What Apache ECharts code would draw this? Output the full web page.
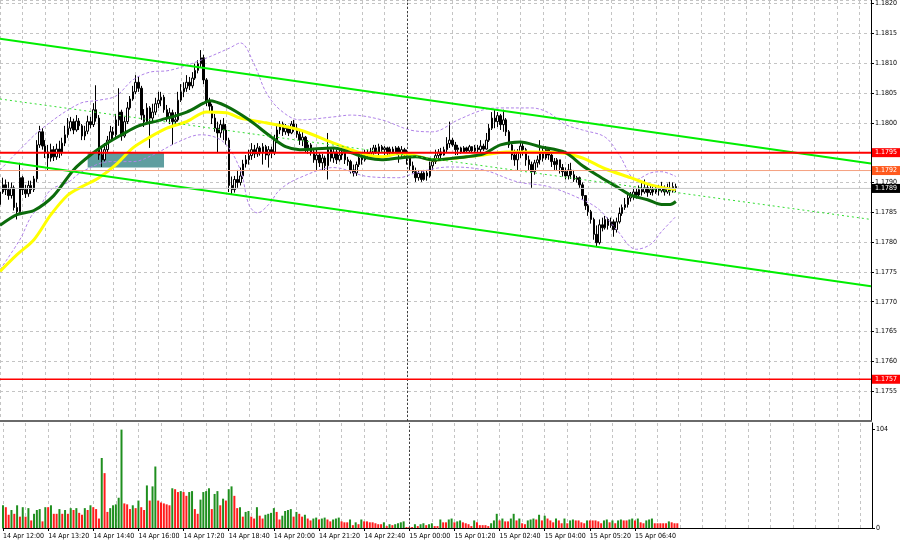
<!DOCTYPE html>
<html><head><meta charset="utf-8">
<script src="https://cdn.jsdelivr.net/npm/echarts@6/dist/echarts.min.js"></script>
<style>html,body{margin:0;padding:0;background:#fff}#c{width:900px;height:545px}</style>
</head><body><div id="c"></div>
<script>
// ---- data ----
const timeLabels = ['14 Apr 12:00','14 Apr 13:20','14 Apr 14:40','14 Apr 16:00','14 Apr 17:20','14 Apr 18:40','14 Apr 20:00','14 Apr 21:20','14 Apr 22:40','15 Apr 00:00','15 Apr 01:20','15 Apr 02:40','15 Apr 04:00','15 Apr 05:20','15 Apr 06:40'];
const opens = [
1.17863,1.17884,1.17896,1.17888,1.17878,1.17891,1.17858,1.17851,1.17908,1.17888,
1.17881,1.17895,1.17888,1.17906,1.17963,1.17985,1.17961,1.17951,1.17941,1.17955,
1.17943,1.17956,1.17950,1.17966,1.17980,1.17991,1.18002,1.17988,1.18003,1.17995,
1.17978,1.17986,1.18002,1.17997,1.18022,1.18008,1.17946,1.17938,1.17955,1.17971,
1.17985,1.17980,1.18005,1.18018,1.17978,1.18002,1.18025,1.18040,1.18052,1.18068,
1.18058,1.18013,1.18002,1.18025,1.18008,1.18018,1.18032,1.18038,1.18043,1.18022,
1.18008,1.18017,1.18002,1.18005,1.18038,1.18052,1.18058,1.18068,1.18062,1.18075,
1.18088,1.18099,1.18109,1.18072,1.18035,1.18028,1.18008,1.17991,1.17983,1.17997,
1.17988,1.17971,1.17895,1.17888,1.17905,1.17900,1.17911,1.17931,1.17938,1.17945,
1.17955,1.17948,1.17958,1.17951,1.17960,1.17946,1.17955,1.17951,1.17971,1.17988,
1.17998,1.17985,1.17991,1.17983,1.17998,1.17991,1.17981,1.17971,1.17976,1.17958,
1.17963,1.17951,1.17938,1.17946,1.17933,1.17941,1.17928,1.17955,1.17941,1.17951,
1.17938,1.17946,1.17951,1.17938,1.17935,1.17921,1.17916,1.17930,1.17941,1.17938,
1.17950,1.17945,1.17951,1.17958,1.17951,1.17960,1.17955,1.17958,1.17950,1.17956,
1.17951,1.17958,1.17948,1.17955,1.17946,1.17941,1.17928,1.17918,1.17908,1.17915,
1.17905,1.17916,1.17911,1.17928,1.17935,1.17945,1.17951,1.17946,1.17955,1.17965,
1.17971,1.17963,1.17955,1.17958,1.17951,1.17958,1.17953,1.17960,1.17953,1.17958,
1.17955,1.17961,1.17956,1.17971,1.17991,1.18008,1.18002,1.18012,1.17997,1.18005,
1.17985,1.17963,1.17946,1.17938,1.17951,1.17961,1.17955,1.17938,1.17930,1.17918,
1.17933,1.17938,1.17951,1.17941,1.17955,1.17946,1.17935,1.17930,1.17938,1.17925,
1.17918,1.17911,1.17921,1.17913,1.17905,1.17908,1.17896,1.17878,1.17861,1.17851,
1.17838,1.17813,1.17799,1.17829,1.17824,1.17838,1.17828,1.17834,1.17821,1.17834,
1.17848,1.17858,1.17863,1.17874,1.17878,1.17884,1.17879,1.17888,1.17884,1.17891,
1.17883,1.17888,1.17884,1.17890,1.17886,1.17891,1.17884,1.17890,1.17886,1.17893];
const closes = [
1.17884,1.17896,1.17888,1.17878,1.17891,1.17858,1.17851,1.17908,1.17888,1.17881,
1.17895,1.17888,1.17906,1.17963,1.17985,1.17961,1.17951,1.17941,1.17955,1.17943,
1.17956,1.17950,1.17966,1.17980,1.17991,1.18002,1.17988,1.18003,1.17995,1.17978,
1.17986,1.18002,1.17997,1.18022,1.18008,1.17946,1.17938,1.17955,1.17971,1.17985,
1.17980,1.18005,1.18018,1.17978,1.18002,1.18025,1.18040,1.18052,1.18068,1.18058,
1.18013,1.18002,1.18025,1.18008,1.18018,1.18032,1.18038,1.18043,1.18022,1.18008,
1.18017,1.18002,1.18005,1.18038,1.18052,1.18058,1.18068,1.18062,1.18075,1.18088,
1.18099,1.18109,1.18072,1.18035,1.18028,1.18008,1.17991,1.17983,1.17997,1.17988,
1.17971,1.17895,1.17888,1.17905,1.17900,1.17911,1.17931,1.17938,1.17945,1.17955,
1.17948,1.17958,1.17951,1.17960,1.17946,1.17955,1.17951,1.17971,1.17988,1.17998,
1.17985,1.17991,1.17983,1.17998,1.17991,1.17981,1.17971,1.17976,1.17958,1.17963,
1.17951,1.17938,1.17946,1.17933,1.17941,1.17928,1.17955,1.17941,1.17951,1.17938,
1.17946,1.17951,1.17938,1.17935,1.17921,1.17916,1.17930,1.17941,1.17938,1.17950,
1.17945,1.17951,1.17958,1.17951,1.17960,1.17955,1.17958,1.17950,1.17956,1.17951,
1.17958,1.17948,1.17955,1.17946,1.17941,1.17928,1.17918,1.17908,1.17915,1.17905,
1.17916,1.17911,1.17928,1.17935,1.17945,1.17951,1.17946,1.17955,1.17965,1.17971,
1.17963,1.17955,1.17958,1.17951,1.17958,1.17953,1.17960,1.17953,1.17958,1.17955,
1.17961,1.17956,1.17971,1.17991,1.18008,1.18002,1.18012,1.17997,1.18005,1.17985,
1.17963,1.17946,1.17938,1.17951,1.17961,1.17955,1.17938,1.17930,1.17918,1.17933,
1.17938,1.17951,1.17941,1.17955,1.17946,1.17935,1.17930,1.17938,1.17925,1.17918,
1.17911,1.17921,1.17913,1.17905,1.17908,1.17896,1.17878,1.17861,1.17851,1.17838,
1.17813,1.17799,1.17829,1.17824,1.17838,1.17828,1.17834,1.17821,1.17834,1.17848,
1.17858,1.17863,1.17874,1.17878,1.17884,1.17879,1.17888,1.17884,1.17891,1.17883,
1.17888,1.17884,1.17890,1.17886,1.17891,1.17884,1.17890,1.17886,1.17893,1.17891];
const highs = [
1.17893,1.17908,1.17905,1.17901,1.17900,1.17895,1.17866,1.17933,1.17911,1.17896,
1.17903,1.17903,1.17911,1.17971,1.17995,1.17991,1.17971,1.17963,1.17965,1.17961,
1.17965,1.17970,1.17975,1.17995,1.18008,1.18010,1.18007,1.18013,1.18008,1.17998,
1.17995,1.18012,1.18010,1.18033,1.18063,1.18013,1.17961,1.17966,1.17978,1.17995,
1.17993,1.18015,1.18058,1.18022,1.18010,1.18035,1.18045,1.18062,1.18080,1.18077,
1.18062,1.18023,1.18033,1.18028,1.18032,1.18042,1.18052,1.18052,1.18047,1.18030,
1.18025,1.18022,1.18018,1.18052,1.18065,1.18068,1.18080,1.18077,1.18085,1.18099,
1.18105,1.18122,1.18114,1.18075,1.18042,1.18032,1.18015,1.18002,1.18005,1.18008,
1.17998,1.17975,1.17910,1.17911,1.17921,1.17925,1.17938,1.17946,1.17955,1.17966,
1.17963,1.17966,1.17961,1.17966,1.17963,1.17961,1.17960,1.17980,1.17995,1.18003,
1.18002,1.17998,1.17995,1.18003,1.18005,1.17998,1.17988,1.17985,1.17978,1.17971,
1.17966,1.17958,1.17955,1.17951,1.17948,1.17945,1.17983,1.17958,1.17958,1.17955,
1.17955,1.17958,1.17955,1.17943,1.17938,1.17930,1.17935,1.17951,1.17950,1.17955,
1.17955,1.17958,1.17963,1.17963,1.17965,1.17963,1.17961,1.17960,1.17960,1.17960,
1.17961,1.17961,1.17961,1.17958,1.17955,1.17941,1.17935,1.17925,1.17921,1.17920,
1.17921,1.17921,1.17935,1.17938,1.17955,1.17956,1.17958,1.17960,1.17976,1.18002,
1.17975,1.17968,1.17963,1.17960,1.17961,1.17960,1.17963,1.17961,1.17963,1.17963,
1.17971,1.17965,1.17983,1.17998,1.18018,1.18022,1.18018,1.18015,1.18022,1.18008,
1.17988,1.17966,1.17955,1.17956,1.17968,1.17966,1.17958,1.17945,1.17935,1.17938,
1.17945,1.17971,1.17958,1.17961,1.17958,1.17951,1.17941,1.17941,1.17938,1.17931,
1.17925,1.17931,1.17933,1.17921,1.17911,1.17910,1.17900,1.17879,1.17864,1.17854,
1.17841,1.17828,1.17838,1.17841,1.17844,1.17841,1.17841,1.17838,1.17841,1.17858,
1.17863,1.17874,1.17879,1.17884,1.17891,1.17890,1.17895,1.17901,1.17905,1.17896,
1.17895,1.17893,1.17895,1.17896,1.17901,1.17895,1.17898,1.17901,1.17900,1.17898];
const lows = [
1.17854,1.17881,1.17879,1.17871,1.17873,1.17853,1.17838,1.17848,1.17879,1.17874,
1.17876,1.17881,1.17884,1.17901,1.17958,1.17955,1.17941,1.17921,1.17935,1.17936,
1.17938,1.17941,1.17945,1.17961,1.17975,1.17986,1.17981,1.17985,1.17988,1.17971,
1.17971,1.17981,1.17991,1.17993,1.18002,1.17938,1.17926,1.17935,1.17951,1.17968,
1.17971,1.17976,1.17995,1.17970,1.17975,1.17998,1.18022,1.18037,1.18048,1.18052,
1.18005,1.17993,1.17997,1.17958,1.18002,1.18013,1.18025,1.18028,1.18017,1.18002,
1.17998,1.17963,1.17995,1.18002,1.18035,1.18043,1.18052,1.18055,1.18058,1.18072,
1.18083,1.18092,1.18065,1.18028,1.18017,1.17998,1.17985,1.17951,1.17975,1.17971,
1.17963,1.17884,1.17879,1.17883,1.17891,1.17895,1.17906,1.17925,1.17930,1.17938,
1.17941,1.17943,1.17945,1.17930,1.17938,1.17925,1.17941,1.17946,1.17966,1.17981,
1.17978,1.17980,1.17978,1.17981,1.17985,1.17975,1.17963,1.17961,1.17951,1.17948,
1.17945,1.17933,1.17921,1.17926,1.17921,1.17921,1.17905,1.17935,1.17933,1.17931,
1.17935,1.17938,1.17931,1.17928,1.17915,1.17910,1.17911,1.17926,1.17930,1.17935,
1.17941,1.17941,1.17946,1.17948,1.17946,1.17950,1.17946,1.17945,1.17946,1.17945,
1.17948,1.17933,1.17943,1.17941,1.17930,1.17921,1.17915,1.17901,1.17903,1.17901,
1.17903,1.17903,1.17908,1.17921,1.17931,1.17938,1.17941,1.17945,1.17951,1.17958,
1.17960,1.17946,1.17946,1.17948,1.17950,1.17950,1.17950,1.17950,1.17950,1.17950,
1.17951,1.17953,1.17955,1.17968,1.17988,1.17991,1.17993,1.17988,1.17985,1.17978,
1.17958,1.17938,1.17928,1.17921,1.17941,1.17945,1.17928,1.17921,1.17891,1.17913,
1.17925,1.17930,1.17935,1.17938,1.17938,1.17926,1.17921,1.17921,1.17915,1.17910,
1.17905,1.17905,1.17906,1.17901,1.17900,1.17891,1.17871,1.17854,1.17844,1.17831,
1.17804,1.17792,1.17796,1.17818,1.17821,1.17821,1.17824,1.17809,1.17816,1.17831,
1.17844,1.17854,1.17858,1.17868,1.17871,1.17873,1.17876,1.17878,1.17881,1.17876,
1.17879,1.17878,1.17881,1.17878,1.17883,1.17878,1.17881,1.17878,1.17883,1.17884];
const volumes = [
24,22,14,19,15,24,12,22,12,21, 8,15,19,20,7,22,22,24,15,15,
20,15,19,15,21,19,21,16,14,21, 19,24,22,20,10,74,58,17,21,24,
25,32,104,26,25,20,24,21,29,22, 19,45,29,44,65,29,27,26,25,24,
42,41,38,39,38,34,38,39,20,15, 30,38,39,42,20,36,39,24,31,29,
41,44,34,21,22,12,17,18,12,10, 22,13,10,14,15,16,21,17,9,13,
18,19,20,12,17,15,12,14,10,8, 10,11,9,10,11,9,7,9,10,11,
7,6,6,9,3,6,4,9,7,7, 6,6,5,4,4,6,2,4,3,4,
5,6,7,1,1,1,4,2,4,5, 3,4,5,2,2,9,6,6,9,10,
6,7,8,6,5,4,2,8,6,3, 3,3,2,5,8,15,8,10,7,7,
10,15,8,10,5,4,8,9,10,9, 14,8,13,10,8,6,10,8,5,10,
5,8,9,8,8,6,5,8,8,8, 8,7,5,8,9,6,8,5,8,9,
8,8,9,10,8,10,6,5,8,9, 10,5,5,5,5,5,7,6,5,5];
// moving averages: [bar index, price]
const maSlow = [[0,1.17751],[6,1.17779],[12,1.17804],[18,1.17846],[24,1.17879],[29,1.17893],[35,1.17908],[41,1.17930],[47,1.17958],[53,1.17976],[59,1.17991],[66,1.18002],[73,1.18018],[80,1.18017],[85,1.18008],[94,1.18000],[106,1.17988],[118,1.17966],[124,1.17955],[130,1.17946],[135,1.17943],[141,1.17948],[147,1.17945],[153,1.17938],[159,1.17940],[165,1.17943],[171,1.17946],[179,1.17951],[188,1.17951],[198,1.17950],[206,1.17941],[214,1.17923],[223,1.17908],[230,1.17896],[239,1.17888]];
const maFast = [[0,1.17828],[6,1.17846],[12,1.17853],[19,1.17878],[26,1.17921],[32,1.17946],[38,1.17966],[43,1.17980],[49,1.17995],[57,1.18005],[66,1.18018],[72,1.18033],[74,1.18037],[80,1.18028],[88,1.18005],[96,1.17976],[101,1.17960],[106,1.17955],[118,1.17958],[124,1.17950],[130,1.17941],[135,1.17938],[141,1.17941],[147,1.17943],[153,1.17938],[159,1.17940],[165,1.17943],[171,1.17948],[177,1.17963],[184,1.17968],[191,1.17960],[200,1.17950],[206,1.17928],[212,1.17910],[218,1.17893],[223,1.17879],[229,1.17871],[234,1.17863],[237,1.17863],[239,1.17868]];
const bandUpper = [[0,1.17921],[7,1.17955],[15,1.17991],[28,1.18032],[35,1.18038],[41,1.18045],[47,1.18072],[53,1.18085],[60,1.18088],[71,1.18105],[81,1.18125],[85,1.18134],[90,1.18097],[94,1.18052],[99,1.18022],[106,1.18005],[118,1.18010],[124,1.18013],[135,1.18005],[145,1.17988],[153,1.17985],[162,1.18005],[171,1.18022],[177,1.18025],[188,1.18025],[194,1.18017],[200,1.17997],[206,1.17988],[214,1.17976],[219,1.17946],[225,1.17905],[230,1.17916],[234,1.17918],[239,1.17910]];
const bandLower = [[0,1.17754],[7,1.17804],[11,1.17843],[14,1.17859],[18,1.17888],[24,1.17900],[29,1.17918],[39,1.17935],[47,1.17935],[54,1.17946],[63,1.17968],[71,1.17980],[79,1.17968],[85,1.17921],[88,1.17863],[91,1.17849],[95,1.17863],[99,1.17888],[106,1.17908],[118,1.17925],[130,1.17910],[141,1.17908],[147,1.17916],[159,1.17926],[171,1.17921],[183,1.17901],[194,1.17893],[206,1.17871],[212,1.17854],[218,1.17821],[225,1.17788],[230,1.17796],[234,1.17818],[239,1.17843]];
// channel lines: [bar index, price]
const channelUpper = [[0,1.18141],[308,1.17932]];
const channelLower = [[0,1.17936],[308,1.17726]];
const channelMid = [[0,1.18040],[308,1.17838]];
// horizontal levels
const levels = [
  {price:1.1795, line:'#ff0000', width:2, box:'#ff0000'},
  {price:1.1792, line:'#f5a07f', width:1, box:'#ff5a1e'},
  {price:1.1789, line:'#c8c8c8', width:1, box:'#000000'},
  {price:1.1757, line:'#ff0000', width:1.5, box:'#ff0000'}
];
const zone = {from:31, to:58, top:1.1795, bottom:1.17925};
const daySeparator = 144;
const totalSlots = 309;

// ---- build ----
const cats = Array.from({length: totalSlots}, (_, i) => String(i));
const candleData = opens.map((o, i) => {
  const c = closes[i];
  return [o, c, Math.min(lows[i], o, c), Math.max(highs[i], o, c)];
});
const volData = volumes.map((v, i) => ({
  value: v,
  itemStyle: {color: (i === 0 || v > volumes[i - 1]) ? '#1f8f1f' : '#ff1c1c'}
}));
const FONT = "'Liberation Sans Narrow','DejaVu Sans Condensed','Liberation Sans',sans-serif";
const FS = 7;
const gridSplit = {show: true, interval: (i) => i % 8 === 0, lineStyle: {color: '#c4c4c4', type: [3, 3], width: 1}};
const showTime = (i) => i % 16 === 0 && i <= 224;

const sepMark = () => ({silent: true, symbol: 'none', animation: false, precision: 5,
  label: {show: false}, lineStyle: {color: '#404040', type: [2, 2], width: 1},
  data: [{xAxis: daySeparator}]});

const chart = echarts.init(document.getElementById('c'), null, {renderer: 'canvas'});
const levelSeries = levels.map(l => ({
  type: 'line', xAxisIndex: 0, yAxisIndex: 0, data: [[0, l.price], [308, l.price]], symbol: 'none', silent: true, z: 7,
  lineStyle: {color: l.line, width: l.width, type: 'solid'},
  endLabel: {show: true, formatter: l.price.toFixed(4), color: '#fff', backgroundColor: l.box,
    fontSize: FS, fontFamily: FONT, padding: [1, 3, 1, 3], distance: 1}
}));

chart.setOption({
  animation: false,
  backgroundColor: '#ffffff',
  grid: [
    {left: 0, top: 0, width: 872, height: 421},
    {left: 0, top: 423, width: 872, height: 105}
  ],
  xAxis: [
    {type: 'category', gridIndex: 0, data: cats, boundaryGap: false,
     axisLine: {show: true, lineStyle: {color: '#6a6a6a', width: 2}}, axisTick: {show: false}, axisLabel: {show: false},
     splitLine: gridSplit},
    {type: 'category', gridIndex: 1, data: cats, boundaryGap: false,
     axisLine: {show: true, lineStyle: {color: '#000', width: 1}},
     axisTick: {show: true, interval: showTime, length: 3, lineStyle: {color: '#000'}},
     axisLabel: {show: true, interval: showTime, formatter: (v, i) => timeLabels[i / 16] || '',
       showMinLabel: true, showMaxLabel: true, hideOverlap: false,
       align: 'left', fontSize: FS, fontFamily: FONT, color: '#000', margin: 5},
     splitLine: gridSplit}
  ],
  yAxis: [
    {type: 'value', gridIndex: 0, position: 'right', min: 1.1750, max: 1.18206, interval: 0.0005, scale: true,
     axisLine: {show: true, lineStyle: {color: '#000'}}, axisTick: {show: true, length: 3, lineStyle: {color: '#000'}},
     axisLabel: {formatter: (v) => v.toFixed(4), fontSize: FS, fontFamily: FONT, color: '#000', margin: 4, showMinLabel: false, showMaxLabel: false},
     splitLine: {show: true, lineStyle: {color: '#c4c4c4', type: [3, 3], width: 1}}},
    {type: 'value', gridIndex: 1, position: 'right', min: 0, max: 111, interval: 104,
     axisLine: {show: true, lineStyle: {color: '#000'}}, axisTick: {show: true, length: 3, lineStyle: {color: '#000'}},
     axisLabel: {fontSize: FS, fontFamily: FONT, color: '#000', margin: 4, showMaxLabel: false},
     splitLine: {show: false}}
  ],
  series: [
    {type: 'line', xAxisIndex: 0, yAxisIndex: 0, data: [], silent: true, z: 1,
     markArea: {silent: true, itemStyle: {color: '#5f9ea0'},
       data: [[{coord: [zone.from, zone.top]}, {coord: [zone.to, zone.bottom]}]]}},
    {type: 'candlestick', xAxisIndex: 0, yAxisIndex: 0, data: candleData, barWidth: 2, z: 2,
     itemStyle: {color: '#ffffff', color0: '#000000', borderColor: '#000000', borderColor0: '#000000', borderWidth: 1},
     markLine: sepMark()},
    {type: 'line', xAxisIndex: 0, yAxisIndex: 0, data: bandUpper, smooth: 0.35, symbol: 'none', silent: true, z: 3,
     lineStyle: {color: '#b083e8', width: 1, type: [3, 2]}},
    {type: 'line', xAxisIndex: 0, yAxisIndex: 0, data: bandLower, smooth: 0.35, symbol: 'none', silent: true, z: 3,
     lineStyle: {color: '#b083e8', width: 1, type: [3, 2]}},
    {type: 'line', xAxisIndex: 0, yAxisIndex: 0, data: maSlow, smooth: 0.3, symbol: 'none', silent: true, z: 4,
     lineStyle: {color: '#ffff00', width: 3}},
    {type: 'line', xAxisIndex: 0, yAxisIndex: 0, data: maFast, smooth: 0.3, symbol: 'none', silent: true, z: 4,
     lineStyle: {color: '#0b6b0b', width: 3}},
    {type: 'line', xAxisIndex: 0, yAxisIndex: 0, data: channelUpper, symbol: 'none', silent: true, z: 5,
     lineStyle: {color: '#00ee00', width: 2}},
    {type: 'line', xAxisIndex: 0, yAxisIndex: 0, data: channelLower, symbol: 'none', silent: true, z: 5,
     lineStyle: {color: '#00ee00', width: 2}},
    {type: 'line', xAxisIndex: 0, yAxisIndex: 0, data: channelMid, symbol: 'none', silent: true, z: 5,
     lineStyle: {color: '#33dd33', width: 1, type: [2, 3]}},
    ...levelSeries,
    {type: 'bar', xAxisIndex: 1, yAxisIndex: 1, data: volData, barWidth: 2, silent: true,
     markLine: sepMark()}
  ]
});
</script>
</body></html>
